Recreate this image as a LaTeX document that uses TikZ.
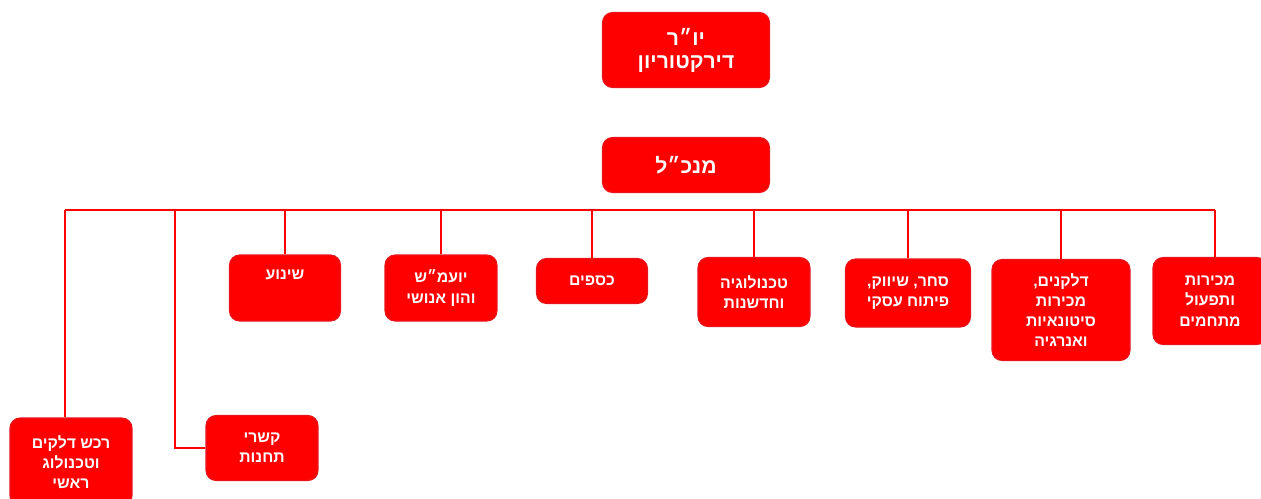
\documentclass[tikz,border=0pt]{standalone}
\usepackage{fontspec}
\usepackage{xcolor}
\usepackage{tikz}
\usetikzlibrary{positioning}
\TeXXeTstate=1
\newfontfamily\hebfont[Script=Hebrew]{Liberation Sans}
\definecolor{ored}{HTML}{FF0000}
\definecolor{oedge}{HTML}{E8141C}
\newcommand{\heb}[1]{\beginR #1\endR}

\begin{document}
\begin{tikzpicture}[x=0.02cm,y=-0.02cm,
  unit/.style={rectangle,rounded corners=0.2cm,fill=ored,draw=oedge,line width=0.6pt,
    text=white,align=center,inner sep=2pt,font=\hebfont\bfseries\fontsize{9}{11.5}\selectfont},
  head/.style={unit,minimum width=3.34cm,font=\hebfont\bfseries\fontsize{12}{13}\selectfont},
  link/.style={ored,line width=1pt}]
  \useasboundingbox (0,0) rectangle (1261,498);

  \node[head,minimum height=1.5cm] (chair) at (686,50) {\heb{יו״ר}\\\heb{דירקטוריון}};
  \node[head,minimum height=1.1cm] (ceo) at (686,165) {\heb{מנכ״ל}};

  % units under the manager
  \node[unit,minimum width=2.22cm,minimum height=1.32cm,text depth=0.55cm] (shinua) at (285,288) {\heb{שינוע}};
  \node[unit,minimum width=2.24cm,minimum height=1.32cm] (yoetz) at (441,288) {\heb{יועמ״ש}\\\heb{והון אנושי}};
  \node[unit,minimum width=2.22cm,minimum height=0.9cm] (ksafim) at (592,281) {\heb{כספים}};
  \node[unit,minimum width=2.24cm,minimum height=1.38cm] (tech) at (754,292) {\heb{טכנולוגיה}\\\heb{וחדשנות}};
  \node[unit,minimum width=2.5cm,minimum height=1.36cm] (sachar) at (908,293) {\heb{סחר, שיווק,}\\\heb{פיתוח עסקי}};
  \node[unit,minimum width=2.76cm,minimum height=2.02cm] (delek) at (1061,310) {\heb{דלקנים,}\\\heb{מכירות}\\\heb{סיטונאיות}\\\heb{ואנרגיה}};
  \node[unit,minimum width=2.28cm,minimum height=1.74cm] (mitchamim) at (1210,301) {\heb{מכירות}\\\heb{ותפעול}\\\heb{מתחמים}};
  \node[unit,minimum width=2.44cm,minimum height=1.76cm] (rechesh) at (71,462) {\heb{רכש דלקים}\\\heb{וטכנולוג}\\\heb{ראשי}};
  \node[unit,minimum width=2.24cm,minimum height=1.3cm] (kishrei) at (262,448) {\heb{קשרי}\\\heb{תחנות}};

  % bus line and drops
  \coordinate (busL) at (65,210);
  \coordinate (busR) at (1215,210);
  \coordinate (kink) at (175,210);
  \draw[link] (busL) -- (busR);
  \draw[link] (busL) -- (busL |- rechesh.north);
  \draw[link] (busR) -- (busR |- mitchamim.north);
  \draw[link] (kink) |- (kishrei.west);
  \foreach \u in {shinua,yoetz,ksafim,tech,sachar,delek}
    \draw[link] (\u.north) -- (\u.north |- busL);
\end{tikzpicture}
\end{document}
